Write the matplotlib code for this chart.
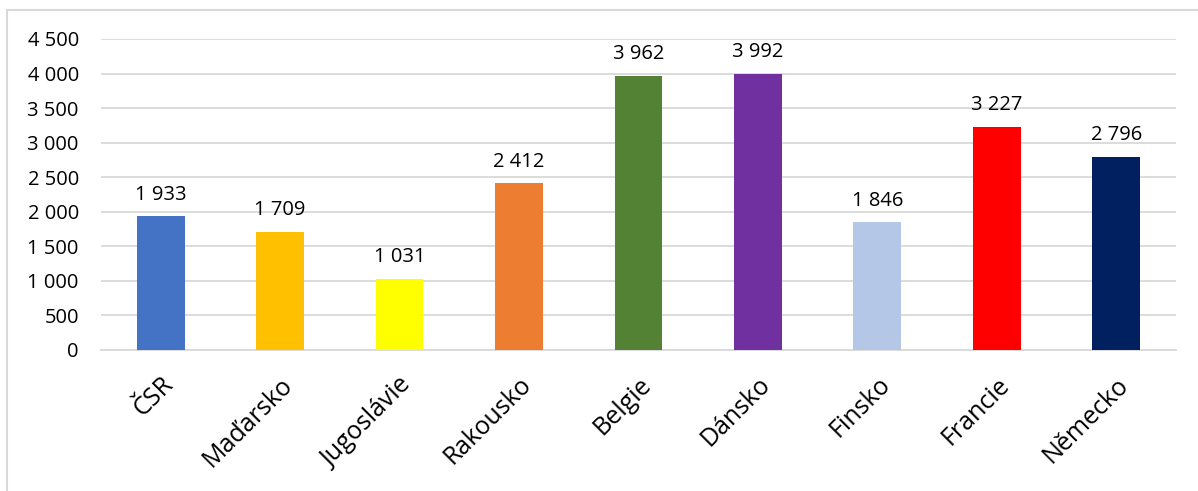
import matplotlib.pyplot as plt
from matplotlib.patches import Rectangle

countries = ['ČSR', 'Maďarsko', 'Jugoslávie', 'Rakousko', 'Belgie',
             'Dánsko', 'Finsko', 'Francie', 'Německo']
values = [1933, 1709, 1031, 2412, 3962, 3992, 1846, 3227, 2796]
colors = ['#4472C4', '#FFC000', '#FFFF00', '#ED7D31', '#548235',
          '#7030A0', '#B4C7E7', '#FF0000', '#002060']
yticks = [0, 500, 1000, 1500, 2000, 2500, 3000, 3500, 4000, 4500]


def fmt(v):
    return f'{v:,}'.replace(',', ' ')


plt.rcParams['font.family'] = ['Open Sans', 'DejaVu Sans']

fig = plt.figure(figsize=(11.98, 4.91), dpi=100)
ax = fig.add_axes([0.0843, 0.2872, 0.8973, 0.6334])

x = range(len(countries))
bars = ax.bar(x, values, width=0.4, color=colors, zorder=3)

for b, v in zip(bars, values):
    ax.text(b.get_x() + b.get_width() / 2, v + 170, fmt(v),
            ha='center', va='bottom', fontsize=14.5, color='#000000')

ax.set_xlim(-0.5, len(countries) - 0.5)
ax.set_ylim(0, 4500)
ax.set_yticks(yticks)
ax.set_yticklabels([fmt(t) for t in yticks], fontsize=14.5)
ax.set_xticks(list(x))
ax.set_xticklabels(countries, rotation=45, ha='right', rotation_mode='anchor',
                   fontsize=18)

ax.grid(axis='y', color='#D9D9D9', linewidth=1.3, zorder=0)
for s in ['top', 'right', 'left']:
    ax.spines[s].set_visible(False)
ax.spines['bottom'].set_color('#D9D9D9')
ax.spines['bottom'].set_linewidth(1.3)
ax.tick_params(axis='both', length=0)
ax.tick_params(axis='y', pad=16)
ax.tick_params(axis='x', pad=16)

# outer chart border
fig.patches.append(Rectangle((7 / 1198, -0.1), 1.2, 1 - 10 / 491 + 0.1,
                             transform=fig.transFigure, fill=False,
                             edgecolor='#D9D9D9', linewidth=1.5))

fig.savefig('out.png', dpi=100)
